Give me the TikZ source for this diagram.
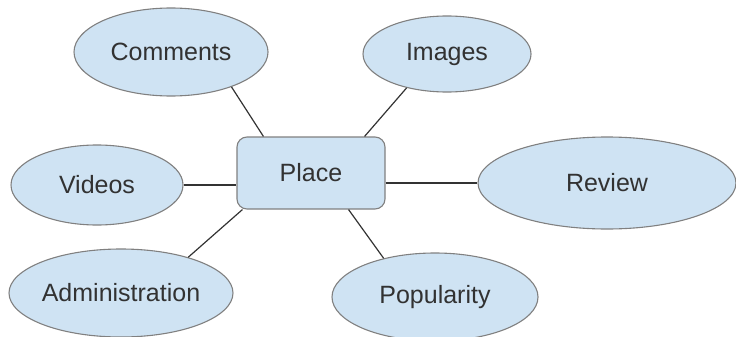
\documentclass[tikz,border=0pt]{standalone}
\usepackage{fontspec}
\setmainfont{Liberation Sans}
\usetikzlibrary{shapes.geometric}
\definecolor{topicblue}{RGB}{207,227,243}
\definecolor{rimgray}{RGB}{128,128,128}
\definecolor{inkgray}{RGB}{50,50,50}
\begin{document}
\begin{tikzpicture}[x=1pt,y=-1pt]
\useasboundingbox (0,0) rectangle (736,337);
\begin{scope}
\tikzstyle{word} = [font=\fontsize{25}{30}\selectfont,text=inkgray]
\tikzstyle{topic} = [word,ellipse,draw=rimgray,line width=1.1pt,fill=topicblue,inner sep=0pt]
\tikzstyle{hub} = [word,rectangle,draw=rimgray,line width=1.1pt,fill=topicblue,rounded corners=10pt,minimum width=148pt,minimum height=72pt]
\tikzstyle{link} = [line width=1.2pt,draw=black!80]

\node [hub] (place) at (311,173) {Place};

\node [topic,minimum width=194pt,minimum height=88pt] (comments) at ([xshift=-140pt,yshift=121pt]place.center) {Comments};
\node [topic,minimum width=168pt,minimum height=76pt] (images) at ([xshift=136pt,yshift=119pt]place.center) {Images};
\node [topic,minimum width=172pt,minimum height=80pt] (videos) at ([xshift=-214pt,yshift=-12pt]place.center) {Videos};
\node [topic,minimum width=258pt,minimum height=92pt] (review) at ([xshift=296pt,yshift=-10pt]place.center) {Review};
\node [topic,minimum width=222pt,minimum height=88pt] (admin) at ([xshift=-190pt,yshift=-120pt]place.center) {Administration};
\node [topic,minimum width=206pt,minimum height=88pt] (popularity) at ([xshift=124pt,yshift=-124pt]place.center) {Popularity};

%links
\draw [link] (comments.-30) -- ([xshift=27pt]place.north west);
\draw [link] (images.-140) -- ([xshift=-21pt]place.north east);
\draw [link] (videos.east) -- (videos.east -| place.west);
\draw [link] (place.east |- review.west) -- (review.west);
\draw [link] (admin.28) -- ([xshift=6pt]place.south west);
\draw [link] (popularity.143) -- ([xshift=-37pt]place.south east);
\end{scope}
\end{tikzpicture}
\end{document}
